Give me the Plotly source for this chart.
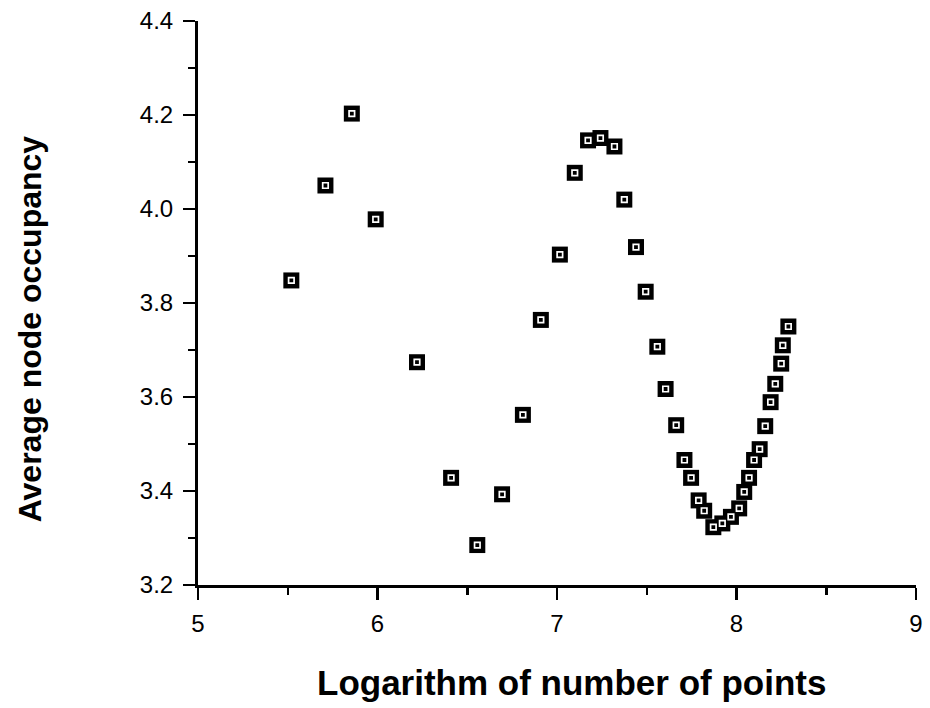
import plotly.graph_objects as go

# Data
log_points = [5.52, 5.71, 5.857, 5.99, 6.22, 6.41, 6.556, 6.694, 6.81, 6.91,
              7.016, 7.099, 7.173, 7.242, 7.32, 7.375, 7.44, 7.494, 7.559, 7.605,
              7.664, 7.71, 7.747, 7.789, 7.82, 7.871, 7.921, 7.969, 8.015, 8.043,
              8.07, 8.098, 8.129, 8.16, 8.19, 8.216, 8.249, 8.258, 8.289]
occupancy = [3.848, 4.05, 4.203, 3.978, 3.674, 3.428, 3.285, 3.393, 3.562, 3.764,
             3.903, 4.077, 4.146, 4.151, 4.133, 4.02, 3.919, 3.824, 3.707, 3.617,
             3.54, 3.466, 3.428, 3.38, 3.358, 3.323, 3.331, 3.345, 3.363, 3.398,
             3.428, 3.466, 3.489, 3.538, 3.589, 3.628, 3.671, 3.71, 3.75]

x_ticks = [5, 6, 7, 8, 9]
y_ticks = [3.2, 3.4, 3.6, 3.8, 4.0, 4.2, 4.4]
x_title = "Logarithm of number of points"
y_title = "Average node occupancy"

FONT = "Liberation Sans, Arial, Helvetica, sans-serif"

fig = go.Figure()
fig.add_trace(go.Scatter(
    x=log_points, y=occupancy, mode="markers",
    marker=dict(symbol="square", size=16, color="black", line=dict(width=0)),
    hoverinfo="skip", showlegend=False, cliponaxis=False))
fig.add_trace(go.Scatter(
    x=log_points, y=occupancy, mode="markers",
    marker=dict(symbol="square-open", size=5.5, color="white", line=dict(width=1.7, color="white")),
    hoverinfo="skip", showlegend=False, cliponaxis=False))

fig.update_layout(
    width=930, height=708,
    margin=dict(l=198, r=7, t=14, b=123),
    paper_bgcolor="white", plot_bgcolor="white",
    font=dict(family=FONT, color="black", size=24),
    xaxis=dict(
        range=[5, 9], tickvals=x_ticks, ticktext=[str(v) for v in x_ticks],
        showgrid=False, zeroline=False, showline=True, linecolor="black", linewidth=3,
        ticks="outside", ticklen=12, tickwidth=2.5, tickcolor="black",
        ticklabelstandoff=3, ticklabeloverflow="allow",
        tickfont=dict(size=24, family=FONT),
        minor=dict(dtick=0.5, tick0=5, ticks="outside", ticklen=7, tickwidth=2.5, tickcolor="black", showgrid=False),
    ),
    yaxis=dict(
        range=[3.2, 4.4], tickvals=y_ticks, ticktext=[f"{v:.1f}" for v in y_ticks],
        showgrid=False, zeroline=False, showline=True, linecolor="black", linewidth=3,
        ticks="outside", ticklen=12, tickwidth=2.5, tickcolor="black",
        ticklabelstandoff=5, ticklabeloverflow="allow",
        tickfont=dict(size=24, family=FONT),
        minor=dict(dtick=0.1, tick0=3.2, ticks="outside", ticklen=7, tickwidth=2.5, tickcolor="black", showgrid=False),
    ),
    annotations=[
        dict(text=f"<b>{x_title}</b>", xref="paper", yref="paper",
             x=0.52, y=-0.172, xanchor="center", yanchor="middle", showarrow=False,
             font=dict(size=35, family=FONT, color="black")),
        dict(text=f"<b>{y_title}</b>", xref="paper", yref="paper",
             x=-0.234, y=0.455, xanchor="center", yanchor="middle", showarrow=False,
             textangle=-90, font=dict(size=32, family=FONT, color="black")),
    ],
)

fig.write_html(
    "out.html",
    config={"displayModeBar": False, "staticPlot": True},
    post_script="document.body.style.margin='0px';document.body.style.overflow='hidden';",
)
